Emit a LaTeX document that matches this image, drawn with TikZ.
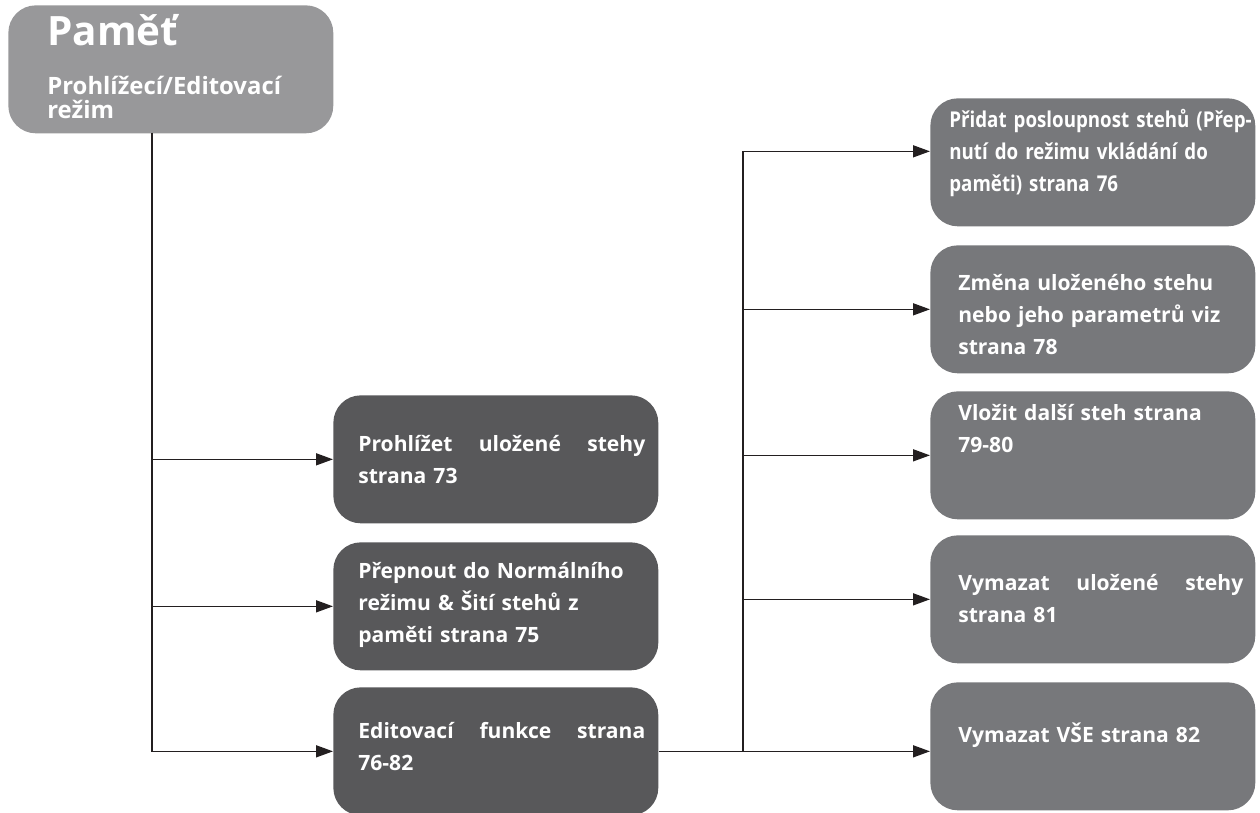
\documentclass[tikz,border=0pt]{standalone}
\usepackage{fontspec}
\setmainfont{Open Sans}
\newfontfamily\narrowfont[FakeStretch=0.86]{Open Sans}
\usetikzlibrary{arrows.meta}

\definecolor{boxlight}{HTML}{98989A}
\definecolor{boxdark}{HTML}{58585A}
\definecolor{boxmid}{HTML}{77787B}
\definecolor{linecol}{HTML}{231F20}

% text inside a box: left padding, right padding, text
\newcommand\boxtext[3]{\parindent=0pt\lineskiplimit=-20pt%
  \leftskip=#1\rightskip=#2\relax #3\par}

\tikzset{
  box/.style={rounded corners=0.55cm, inner xsep=0pt, inner ysep=0pt,
    text width=6.5cm, text=white, anchor=north west,
    font=\fontsize{12}{18.2}\selectfont\bfseries},
  dbox/.style={box, fill=boxdark},
  rbox/.style={box, fill=boxmid},
  arr/.style={draw=linecol, line width=0.03cm,
    -{Triangle[length=0.34cm,width=0.24cm]}}
}

\begin{document}
\begin{tikzpicture}[x=0.02cm, y=-0.02cm]
  \useasboundingbox (0,0) rectangle (1260,813);

  % main box
  \node[box, fill=boxlight, text height=0.8cm, text depth=1.76cm] (memory) at (8,5)
    {\boxtext{0.78cm}{0pt}{%
     {\fontsize{23}{23}\selectfont Paměť\par}\vspace{14pt}%
     {\fontsize{13.6}{13.7}\selectfont Prohlížecí/Editovací\newline režim\par}}};

  % left column
  \node[dbox, text height=1.12cm, text depth=1.44cm] (view) at (333,395)
    {\boxtext{0.5cm}{0.26cm}{Prohlížet\hfill uložené\hfill stehy\newline strana 73}};
  \node[dbox, text height=0.72cm, text depth=1.84cm] (normal) at (333,542)
    {\boxtext{0.5cm}{0.26cm}{Přepnout do Normálního\newline režimu \& Šití stehů z\newline paměti strana 75}};
  \node[dbox, text height=1.02cm, text depth=1.54cm] (edit) at (333,687)
    {\boxtext{0.5cm}{0.26cm}{Editovací\hfill funkce\hfill strana\newline 76-82}};

  % right column
  \node[rbox, text height=0.58cm, text depth=1.98cm] (add) at (930,98)
    {\boxtext{0.38cm}{0pt}{\narrowfont\bfseries\fontsize{12.4}{18.2}\selectfont
     Přidat posloupnost stehů (Přep-\newline nutí do režimu vkládání do\newline paměti) strana 76}};
  \node[rbox, text height=0.9cm, text depth=1.66cm] (change) at (930,245)
    {\boxtext{0.56cm}{0.24cm}{Změna uloženého stehu\newline nebo jeho parametrů viz\newline strana 78}};
  \node[rbox, text height=0.58cm, text depth=1.98cm] (insert) at (930,391)
    {\boxtext{0.56cm}{0.24cm}{Vložit další steh strana\newline 79-80}};
  \node[rbox, text height=1.1cm, text depth=1.46cm] (erase) at (930,535)
    {\boxtext{0.56cm}{0.24cm}{Vymazat\hfill uložené\hfill stehy\newline strana 81}};
  \node[rbox, text height=1.2cm, text depth=1.36cm] (eraseall) at (930,682)
    {\boxtext{0.56cm}{0.24cm}{Vymazat VŠE strana 82}};

  % connectors
  \coordinate (trunk) at (152,133);
  \coordinate (fork) at (743,751);
  \draw[arr] (trunk) |- (view);
  \draw[arr] (trunk) |- (normal);
  \draw[arr] (trunk) |- (edit);
  \draw[arr] (edit.east) -- (edit.east -| eraseall.west);
  \draw[arr] (fork) |- ([yshift=0.22cm]add.west);
  \draw[arr] (fork) |- (change);
  \draw[arr] (fork) |- (insert);
  \draw[arr] (fork) |- (erase);
\end{tikzpicture}
\end{document}
